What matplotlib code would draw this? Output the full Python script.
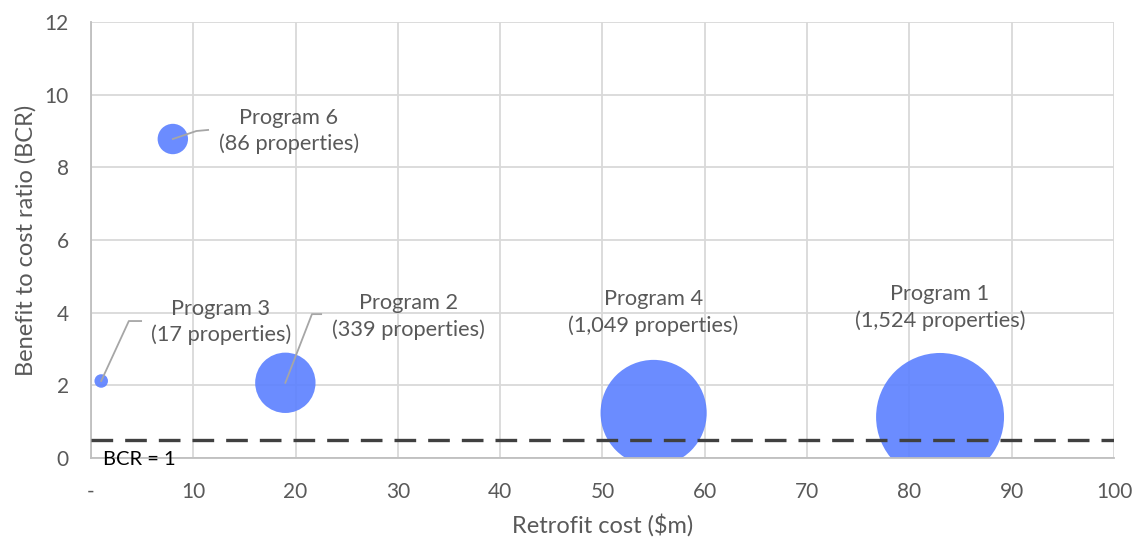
import matplotlib
matplotlib.use("Agg")
import matplotlib.pyplot as plt
import numpy as np

#-------data-------
programs = ["Program 1", "Program 2", "Program 3", "Program 4", "Program 6"]
retrofit_cost = [83.0, 19.0, 1.0, 55.0, 8.0]       # $m
bcr = [1.13, 2.07, 2.12, 1.24, 8.78]
properties = [1524, 339, 17, 1049, 86]
bcr_line = 0.5
x_ticks = [0, 10, 20, 30, 40, 50, 60, 70, 80, 90, 100]
y_ticks = [0, 2, 4, 6, 8, 10, 12]

#-------label layout (data coords)-------
label_pos = {
    "Program 1": (83.0, 4.15),
    "Program 2": (31.0, 3.9),
    "Program 3": (12.7, 3.74),
    "Program 4": (55.0, 4.0),
    "Program 6": (19.35, 9.0),
}
# leader lines: elbow and end point
leader = {
    "Program 2": ((21.6, 3.96), (22.5, 3.96)),
    "Program 3": ((3.7, 3.77), (4.9, 3.77)),
    "Program 6": ((10.3, 9.0), (11.45, 9.03)),
}

plt.rcParams["font.family"] = ["Lato", "DejaVu Sans"]
GREY = "#595959"

fig = plt.figure(figsize=(11.43, 5.41), dpi=100)
ax = fig.add_axes([0.0796, 0.1534, 0.895, 0.8059])

ax.set_xlim(0, 100)
ax.set_ylim(0, 12)
ax.set_xticks(x_ticks)
ax.set_yticks(y_ticks)
ax.set_xticklabels(["-" if t == 0 else str(t) for t in x_ticks])
ax.grid(True, color="#d9d9d9", linewidth=1.3, zorder=0)
ax.set_axisbelow(True)
for s in ["top", "right"]:
    ax.spines[s].set_visible(False)
for s in ["left", "bottom"]:
    ax.spines[s].set_color("#bfbfbf")
    ax.spines[s].set_linewidth(1.3)
ax.tick_params(axis="both", length=0, labelsize=15, colors=GREY)
ax.tick_params(axis="x", pad=17)
ax.tick_params(axis="y", pad=16)

# bubbles: area proportional to number of properties
ax.scatter(retrofit_cost, bcr, s=np.array(properties) * 5.57,
           color="#5b80ff", alpha=0.9, edgecolors="none", zorder=2)

# BCR = 1 line
ax.axhline(bcr_line, color="#404040", linewidth=2.4, dashes=(6.5, 3.6), zorder=3)
ax.text(1.2, -0.05, "BCR = 1", fontsize=14.5, color="black", va="center", ha="left",
        zorder=4, clip_on=False)

# labels
for name, x, y, n in zip(programs, retrofit_cost, bcr, properties):
    tx, ty = label_pos[name]
    ax.text(tx, ty, f"{name}\n({n:,} properties)", fontsize=15.7, color=GREY,
            ha="center", va="center", multialignment="center", linespacing=1.37,
            zorder=5)
    if name in leader:
        (ex, ey), (fx, fy) = leader[name]
        ax.plot([x, ex, fx], [y, ey, fy], color="#a6a6a6", linewidth=1.3, zorder=4)

ax.set_xlabel("Retrofit cost ($m)", fontsize=17, color=GREY, labelpad=9)
ax.set_ylabel("Benefit to cost ratio (BCR)", fontsize=17, color=GREY, labelpad=6)

fig.savefig("out.png", dpi=100)
